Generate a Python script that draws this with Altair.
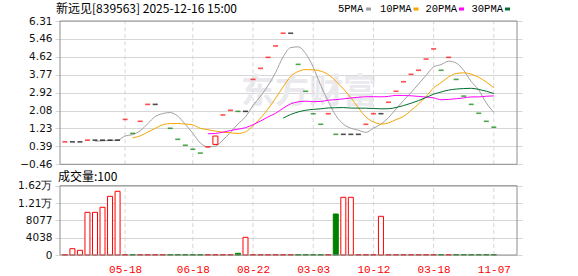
import altair as alt
import pandas as pd

# ---------------- data ----------------
close_px = [0.60, 0.60, 0.60, 0.68, 0.68, 0.68, 0.68, 0.68, 1.66, 1.00,
            1.57, 2.37, 2.37, 2.37, 1.24, 0.72, 0.44, 0.25, 0.07, 0.36,
            0.875, 1.87, 2.09, 2.04, 2.04, 3.55, 4.07, 4.59, 5.13, 5.73,
            5.73, 4.26, 2.99, 1.93, 1.43, 1.93, 0.955, 0.955, 0.955, 0.955,
            1.43, 1.93, 1.93, 2.47, 2.99, 3.44, 3.79, 3.98, 4.51, 4.99,
            3.98, 4.59, 3.55, 2.76, 2.37, 1.95, 1.57, 1.29]
open_px = [0.60, 0.60, 0.60, 0.68, 0.68, 0.68, 0.68, 0.68, 1.66, 1.00,
           1.57, 2.37, 2.37, 2.37, 1.24, 0.72, 0.44, 0.25, 0.07, 0.36,
           0.48, 1.87, 2.09, 2.04, 2.04, 3.55, 4.07, 4.59, 5.13, 5.73,
           5.73, 4.26, 2.99, 1.93, 1.43, 1.93, 0.955, 0.955, 0.955, 0.955,
           1.43, 1.93, 1.93, 2.47, 2.99, 3.44, 3.79, 3.98, 4.51, 4.99,
           3.98, 4.59, 3.55, 2.76, 2.37, 1.95, 1.57, 1.29]
# "none": the day counts in the averages but no candle is drawn in the picture
direction = ["up", "flat", "flat", "up", "flat", "flat", "flat", "flat", "up", "down",
             "up", "up", "flat", "none", "down", "down", "down", "down", "down", "up",
             "up", "up", "up", "down", "flat", "up", "up", "up", "up", "up",
             "flat", "down", "down", "down", "down", "up", "down", "flat", "flat", "flat",
             "up", "up", "flat", "up", "up", "up", "up", "up", "up", "up",
             "down", "up", "down", "down", "down", "down", "down", "down"]
volume = [100, 1470, 1090, 9950, 9950, 11120, 13680, 14850, 100, 100,
          100, 100, 100, 100, 100, 100, 100, 100, 100, 100,
          100, 100, 100, 400, 4120, 100, 100, 100, 100, 100,
          100, 100, 100, 100, 100, 100, 9560, 13450, 13450, 100,
          100, 100, 9020, 100, 100, 100, 100, 100, 100, 100,
          100, 100, 100, 100, 100, 100, 100, 100]

x_tick_slots = [8, 17, 25, 33, 41, 49, 57]
x_tick_labels = ["05-18", "06-18", "08-22", "03-03", "10-12", "03-18", "11-07"]
price_ticks = [-0.46, 0.386, 1.232, 2.078, 2.924, 3.77, 4.616, 5.462, 6.308]
volume_ticks = [0, 4038, 8077, 12115, 16154]
ma_names = ["5PMA", "10PMA", "20PMA", "30PMA"]
ma_windows = [5, 10, 20, 30]
title_text = "新远见[839563] 2025-12-16 15:00"
volume_title = "成交量:100"
watermark = "东方财富"

# ---------------- styles ----------------
ma_colors = ["#a0a0a0", "#f5a500", "#ff00ff", "#006e2e"]
RED, GREEN, BLACK = "#ff0000", "#008000", "#000000"
GRID = "#d6d6d6"
BORDER = "#8e8e8e"

df = pd.DataFrame({"i": list(range(len(close_px))), "open": open_px, "close": close_px,
                   "dir": direction, "vol": volume})
df["lo"] = df[["open", "close"]].min(axis=1)
df["hi"] = df[["open", "close"]].max(axis=1)
slots_df = pd.DataFrame({"slot": x_tick_slots})
one = pd.DataFrame({"k": [0]})

X_DOMAIN = [-0.65, 60.08]
P_DOMAIN = [price_ticks[0], price_ticks[-1]]
V_DOMAIN = [volume_ticks[0], volume_ticks[-1]]
xs = alt.Scale(domain=X_DOMAIN, nice=False, zero=False)
ps = alt.Scale(domain=P_DOMAIN, range=[143.3, 0], nice=False, zero=False)
vs = alt.Scale(domain=V_DOMAIN, range=[234, 164.7], nice=False, zero=False)

candle_color_expr = f"datum.dir == 'up' ? '{RED}' : (datum.dir == 'down' ? '{GREEN}' : '{BLACK}')"

x_label_expr = ("[" + ",".join(f"'{l}'" for l in x_tick_labels) + "][indexof(["
                + ",".join(str(s) for s in x_tick_slots) + "], datum.value)]")

x_axis = alt.Axis(values=x_tick_slots, labelExpr=x_label_expr, grid=False, domain=False,
                  ticks=False, tickSize=0, labelPadding=8, labelColor=RED,
                  labelFont="Liberation Mono", labelFontSize=11, labelFlush=False,
                  labelOverlap=False, title=None)
price_axis = alt.Axis(orient="left", values=price_ticks, format=".2f", grid=True,
                      gridColor=GRID, domain=False, ticks=False, tickSize=0, labelPadding=3,
                      labelFont="DejaVu Sans", labelFontSize=10.5, labelColor="#111111",
                      labelFlush=False, labelOverlap=False, labelBound=False, title=None)
vol_axis = alt.Axis(orient="left", values=volume_ticks,
                    labelExpr="datum.value >= 10000 ? format(datum.value / 10000, '.2f') + '万' : format(datum.value, 'd')",
                    grid=True, gridColor=GRID, domain=False, ticks=False, tickSize=0,
                    labelPadding=3, labelFont="DejaVu Sans", labelFontSize=10.5,
                    labelColor="#111111", labelFlush=False, labelOverlap=False, title=None)

base = alt.Chart(df)

# ---- price panel ----
wm = alt.Chart(pd.DataFrame({"t": [watermark]})).mark_text(
    align="left", baseline="middle", font="Noto Sans CJK SC", fontSize=34, fontWeight="bold",
    color="#e9e9ee").encode(text="t:N", x=alt.value(186), y=alt.value(72))

vgrid_p = alt.Chart(slots_df).mark_rule(color=GRID, strokeDash=[4, 3], strokeWidth=1).encode(
    x=alt.X("slot:Q", scale=xs, title=None, axis=x_axis),
    y=alt.Y(datum=P_DOMAIN[0], scale=ps, axis=price_axis, title=None),
    y2=alt.datum(P_DOMAIN[1]))

ma_layers = []
for name, w, col in zip(ma_names, ma_windows, ma_colors):
    ma_layers.append(
        base.transform_window(ma="mean(close)", n="count()", frame=[-(w - 1), 0],
                              sort=[{"field": "i"}])
        .transform_filter(f"datum.n == {w}")
        .mark_line(color=col, strokeWidth=1, interpolate="monotone")
        .encode(x=alt.X("i:Q", scale=xs, title=None),
                y=alt.Y("ma:Q", scale=ps, axis=price_axis, title=None)))

doji = (base.transform_filter("datum.open == datum.close && datum.dir != 'none'")
        .transform_calculate(cc=candle_color_expr)
        .mark_tick(orient="horizontal", size=5, thickness=1.6)
        .encode(x=alt.X("i:Q", scale=xs, title=None),
                y=alt.Y("close:Q", scale=ps, axis=price_axis, title=None),
                color=alt.Color("cc:N", scale=None)))

body = (base.transform_filter("datum.open != datum.close && datum.dir != 'none'")
        .transform_calculate(cc=candle_color_expr)
        .mark_bar(size=5, fill="#ffffff", strokeWidth=1)
        .encode(x=alt.X("i:Q", scale=xs, title=None),
                y=alt.Y("lo:Q", scale=ps, axis=price_axis, title=None), y2="hi:Q",
                stroke=alt.Stroke("cc:N", scale=None)))

border_p = alt.Chart(one).mark_rect(fill="transparent", stroke=BORDER, strokeWidth=1).encode(
    x=alt.datum(X_DOMAIN[0]), x2=alt.datum(X_DOMAIN[1]),
    y=alt.Y(datum=P_DOMAIN[0], scale=ps, axis=price_axis, title=None),
    y2=alt.datum(P_DOMAIN[1]))

texts = []
texts.append(alt.Chart(pd.DataFrame({"t": [title_text]})).mark_text(
    align="left", baseline="middle", font="Noto Sans CJK SC", fontSize=12, color="#000000")
    .encode(text="t:N", x=alt.value(1), y=alt.value(-12)))
texts.append(alt.Chart(pd.DataFrame({"t": [volume_title]})).mark_text(
    align="left", baseline="middle", font="Noto Sans CJK SC", fontSize=12, color="#000000")
    .encode(text="t:N", x=alt.value(3), y=alt.value(156)))

legend_text_x = [283, 325, 370.5, 416.5]
legend_swatch_x = [313.5, 361, 406.5, 452.5]
for name, col, tx, sx in zip(ma_names, ma_colors, legend_text_x, legend_swatch_x):
    texts.append(alt.Chart(pd.DataFrame({"t": [name]})).mark_text(
        align="left", baseline="middle", font="Liberation Mono", fontSize=10.5, color="#000000")
        .encode(text="t:N", x=alt.value(tx), y=alt.value(-12)))
    texts.append(alt.Chart(one).mark_rect(color=col).encode(
        x=alt.value(sx - 2.5), x2=alt.value(sx + 2.5), y=alt.value(-13.5), y2=alt.value(-10.5)))

price_layer = alt.layer(wm, vgrid_p, *ma_layers, doji, body, border_p, *texts)

# ---- volume panel ----
vgrid_v = alt.Chart(slots_df).mark_rule(color=GRID, strokeDash=[4, 3], strokeWidth=1).encode(
    x=alt.X("slot:Q", scale=xs, title=None),
    y=alt.Y(datum=V_DOMAIN[0], scale=vs, axis=vol_axis, title=None), y2=alt.datum(V_DOMAIN[1]))

vol_bars = (base.transform_calculate(
                vs_=f"datum.dir == 'down' ? '{GREEN}' : '{RED}'",
                vf_=f"datum.dir == 'down' ? '{GREEN}' : '#ffffff'")
            .mark_bar(size=5, strokeWidth=1)
            .encode(x=alt.X("i:Q", scale=xs, title=None),
                    y=alt.Y("vol:Q", scale=vs, axis=vol_axis, title=None), y2=alt.datum(0),
                    fill=alt.Fill("vf_:N", scale=None),
                    stroke=alt.Stroke("vs_:N", scale=None)))

border_v = alt.Chart(one).mark_rect(fill="transparent", stroke=BORDER, strokeWidth=1).encode(
    x=alt.datum(X_DOMAIN[0]), x2=alt.datum(X_DOMAIN[1]),
    y=alt.Y(datum=V_DOMAIN[0], scale=vs, axis=vol_axis, title=None),
    y2=alt.datum(V_DOMAIN[1]))

volume_layer = alt.layer(vgrid_v, vol_bars, border_v)

chart = (alt.layer(price_layer, volume_layer)
         .resolve_scale(y="independent")
         .resolve_axis(y="independent")
         .properties(width=467, height=234,
                     autosize=alt.AutoSizeParams(type="none"),
                     padding={"left": 55, "top": 21, "right": 56, "bottom": 21},
                     background="#ffffff")
         .configure_axis(labelOverlap=False)
         .configure_view(stroke=None))

chart.save("out.html", embed_options={"renderer": "svg", "actions": False})
